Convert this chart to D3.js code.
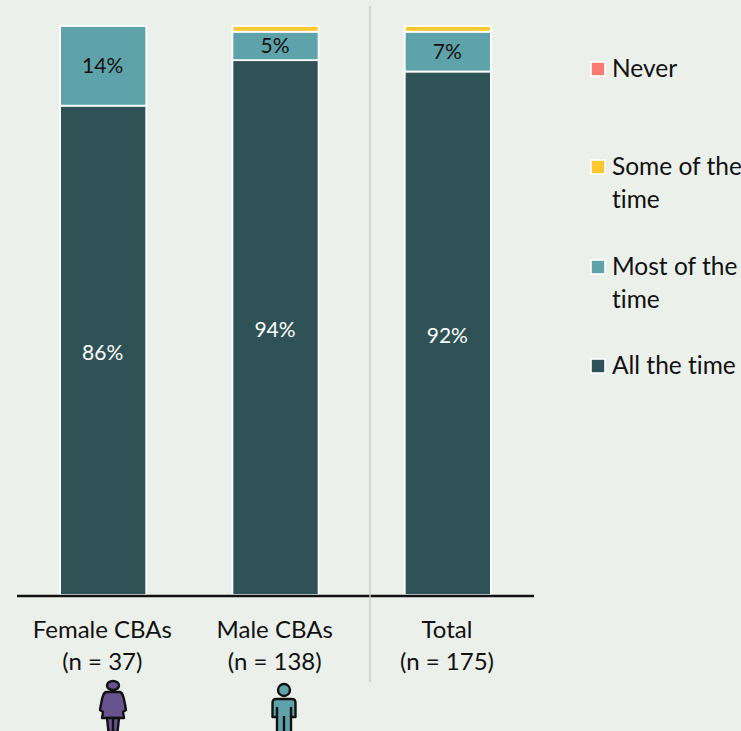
<!DOCTYPE html>
<html>
<head>
<meta charset="utf-8">
<script src="https://cdnjs.cloudflare.com/ajax/libs/d3/7.8.5/d3.min.js"></script>
<style>
html,body{margin:0;padding:0;background:#ecf0eb;}
svg{display:block;}
text{font-family:Lato,"Open Sans",sans-serif;fill:#111;font-variant-ligatures:none;}
</style>
</head>
<body>
<svg id="chart" width="741" height="731"></svg>
<script>
const categories = ["Female CBAs", "Male CBAs", "Total"];
const counts = ["(n = 37)", "(n = 138)", "(n = 175)"];
const seriesNames = ["All the time", "Most of the time", "Some of the time", "Never"];
const allTheTime = [86, 94, 92];
const mostOfTheTime = [14, 5, 7];
const someOfTheTime = [0, 1, 1];
const never = [0, 0, 0];
const seriesColors = ["#2f5257", "#5fa3aa", "#fdc82f", "#fb7b72"];
const legendLines = [["Never"], ["Some of the", "time"], ["Most of the", "time"], ["All the time"]];
const legendOrder = [3, 2, 1, 0];

const svg = d3.select("#chart");
const x = d3.scaleBand().domain(categories).range([17, 534]).paddingInner(0.5).paddingOuter(0.25);
const y = d3.scaleLinear().domain([0, 100]).range([595, 26]);

const rows = categories.map((c, i) => ({
  category: c,
  [seriesNames[0]]: allTheTime[i],
  [seriesNames[1]]: mostOfTheTime[i],
  [seriesNames[2]]: someOfTheTime[i],
  [seriesNames[3]]: never[i]
}));
const stacked = d3.stack().keys(seriesNames)(rows);

// Stacked bars with a white outline around each segment
const layers = svg.append("g").selectAll("g").data(stacked).join("g")
  .attr("fill", (d, i) => seriesColors[i]);
layers.selectAll("rect")
  .data(d => d.filter(p => p[1] > p[0]))
  .join("rect")
  .attr("x", d => x(d.data.category))
  .attr("width", x.bandwidth())
  .attr("y", d => y(d[1]))
  .attr("height", d => y(d[0]) - y(d[1]))
  .attr("stroke", "#fff")
  .attr("stroke-width", 1.8);

// Value labels for the two largest series
[0, 1].forEach(s => {
  svg.append("g").selectAll("text")
    .data(stacked[s])
    .join("text")
    .attr("x", d => x(d.data.category) + x.bandwidth() / 2 - 0.5)
    .attr("y", d => (y(d[0]) + y(d[1])) / 2 + (s === 0 ? 9.5 : 7.5))
    .attr("text-anchor", "middle")
    .attr("font-size", 21)
    .style("fill", s === 0 ? "#fff" : "#111")
    .text(d => (d[1] - d[0]) + "%");
});

// Baseline and the divider that sets Total apart
svg.append("line").attr("x1", 17).attr("x2", 534).attr("y1", 596).attr("y2", 596)
  .attr("stroke", "#111").attr("stroke-width", 2.6);
svg.append("line").attr("x1", 370).attr("x2", 370).attr("y1", 6).attr("y2", 682)
  .attr("stroke", "#c8cac8").attr("stroke-width", 1.4);

// Category labels
const labels = svg.append("g").selectAll("g").data(categories).join("g")
  .attr("transform", d => `translate(${x(d) + x.bandwidth() / 2 - 0.8},0)`);
labels.append("text").attr("y", 638).attr("text-anchor", "middle").attr("font-size", 24).text(d => d);
labels.append("text").attr("y", 670).attr("text-anchor", "middle").attr("font-size", 24)
  .text((d, i) => counts[i]);

// Legend
const legendY = [69, 167, 267, 366];
const legend = svg.append("g").selectAll("g").data(legendOrder).join("g");
legend.append("rect")
  .attr("x", 591).attr("width", 14).attr("height", 14)
  .attr("y", (d, i) => legendY[i] - 7)
  .attr("fill", d => seriesColors[d]).attr("stroke", "#fff").attr("stroke-width", 1.6);
legend.each(function (d, i) {
  d3.select(this).selectAll("text").data(legendLines[i]).join("text")
    .attr("x", 612)
    .attr("y", (t, k) => legendY[i] + 8 + k * 33)
    .attr("font-size", 24.5)
    .text(t => t);
});

// Pictograms under the gender groups
const female = svg.append("g").attr("transform", "translate(113,680)")
  .attr("fill", "#67548f").attr("stroke", "#111").attr("stroke-width", 2.4).attr("stroke-linejoin", "round");
female.append("ellipse").attr("cy", 5.5).attr("rx", 6).attr("ry", 4.5);
female.append("path").attr("d", "M-7,12 L7,12 C10,13 11,18 13,30 L10,32 L11,38 L-11,38 L-10,32 L-13,30 C-11,18 -10,13 -7,12 Z");
female.append("path").attr("d", "M-6,38 L6,38 L4.5,52 L-4.5,52 Z");
female.append("path").attr("d", "M0,39 L0,52").attr("fill", "none");

const male = svg.append("g").attr("transform", "translate(284,683)")
  .attr("fill", "#5fa3aa").attr("stroke", "#111").attr("stroke-width", 2.4).attr("stroke-linejoin", "round");
male.append("circle").attr("cy", 7).attr("r", 6);
male.append("path").attr("d", "M-8,16 L8,16 Q11.5,16 11.5,20 L11.5,34 L7,34 L7,50 L-7,50 L-7,34 L-11.5,34 L-11.5,20 Q-11.5,16 -8,16 Z");
male.append("path").attr("d", "M0,33 L0,50 M-7,24 L-7,34 M7,24 L7,34").attr("fill", "none");
</script>
</body>
</html>
